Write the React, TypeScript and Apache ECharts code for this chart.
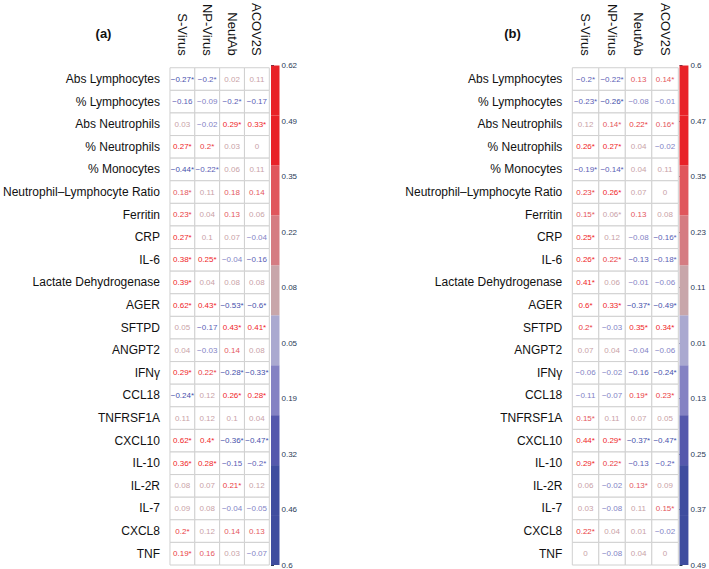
import React, { useEffect, useRef } from 'react';
import * as echarts from 'echarts';

const columns = ['S-Virus', 'NP-Virus', 'NeutAb', 'ACOV2S'];
const rows = [
  'Abs Lymphocytes', '% Lymphocytes', 'Abs Neutrophils', '% Neutrophils', '% Monocytes',
  'Neutrophil–Lymphocyte Ratio', 'Ferritin', 'CRP', 'IL-6', 'Lactate Dehydrogenase', 'AGER',
  'SFTPD', 'ANGPT2', 'IFNγ', 'CCL18', 'TNFRSF1A', 'CXCL10', 'IL-10', 'IL-2R', 'IL-7', 'CXCL8', 'TNF',
];

const valuesA = [
  [-0.27, -0.2, 0.02, 0.11],
  [-0.16, -0.09, -0.2, -0.17],
  [0.03, -0.02, 0.29, 0.33],
  [0.27, 0.2, 0.03, 0],
  [-0.44, -0.22, 0.06, 0.11],
  [0.18, 0.11, 0.18, 0.14],
  [0.23, 0.04, 0.13, 0.06],
  [0.27, 0.1, 0.07, -0.04],
  [0.38, 0.25, -0.04, -0.16],
  [0.39, 0.04, 0.08, 0.08],
  [0.62, 0.43, -0.53, -0.6],
  [0.05, -0.17, 0.43, 0.41],
  [0.04, -0.03, 0.14, 0.08],
  [0.29, 0.22, -0.28, -0.33],
  [-0.24, 0.12, 0.26, 0.28],
  [0.11, 0.12, 0.1, 0.04],
  [0.62, 0.4, -0.36, -0.47],
  [0.36, 0.28, -0.15, -0.2],
  [0.08, 0.07, 0.21, 0.12],
  [0.09, 0.08, -0.04, -0.05],
  [0.2, 0.12, 0.14, 0.13],
  [0.19, 0.16, 0.03, -0.07],
];
const sigA = [
  [1, 1, 0, 0], [0, 0, 1, 0], [0, 0, 1, 1], [1, 1, 0, 0], [1, 1, 0, 0], [1, 0, 0, 0],
  [1, 0, 0, 0], [1, 0, 0, 0], [1, 1, 0, 0], [1, 0, 0, 0], [1, 1, 1, 1], [0, 0, 1, 1],
  [0, 0, 0, 0], [1, 1, 1, 1], [1, 0, 1, 1], [0, 0, 0, 0], [1, 1, 1, 1], [1, 1, 0, 1],
  [0, 0, 1, 0], [0, 0, 0, 0], [1, 0, 0, 0], [1, 0, 0, 0],
];

const valuesB = [
  [-0.2, -0.22, 0.13, 0.14],
  [-0.23, -0.26, -0.08, -0.01],
  [0.12, 0.14, 0.22, 0.16],
  [0.26, 0.27, 0.04, -0.02],
  [-0.19, -0.14, 0.04, 0.11],
  [0.23, 0.26, 0.07, 0],
  [0.15, 0.06, 0.13, 0.08],
  [0.25, 0.12, -0.08, -0.16],
  [0.26, 0.22, -0.13, -0.18],
  [0.41, 0.06, -0.01, -0.06],
  [0.6, 0.33, -0.37, -0.49],
  [0.2, -0.03, 0.35, 0.34],
  [0.07, 0.04, -0.04, -0.06],
  [-0.06, -0.02, -0.16, -0.24],
  [-0.11, -0.07, 0.19, 0.23],
  [0.15, 0.11, 0.07, 0.05],
  [0.44, 0.29, -0.37, -0.47],
  [0.29, 0.22, -0.13, -0.2],
  [0.06, -0.02, 0.13, 0.09],
  [0.03, -0.08, 0.11, 0.15],
  [0.22, 0.04, 0.01, -0.02],
  [0, -0.08, 0.04, 0],
];
const sigB = [
  [1, 1, 0, 1], [1, 1, 0, 0], [0, 1, 1, 1], [1, 1, 0, 0], [1, 1, 0, 0], [1, 1, 0, 0],
  [1, 1, 0, 0], [1, 0, 0, 1], [1, 1, 0, 1], [1, 0, 0, 0], [1, 1, 1, 1], [1, 0, 1, 1],
  [0, 0, 0, 0], [0, 0, 0, 1], [0, 0, 1, 1], [1, 0, 0, 0], [1, 1, 1, 1], [1, 1, 0, 1],
  [0, 0, 1, 0], [0, 0, 0, 1], [1, 0, 0, 0], [0, 0, 0, 0],
];

// colour-bar tick labels, top to bottom
const ticksA = ['0.62', '0.49', '0.35', '0.22', '0.08', '0.05', '0.19', '0.32', '0.46', '0.6'];
const ticksB = ['0.6', '0.47', '0.35', '0.23', '0.11', '0.01', '0.13', '0.25', '0.37', '0.49'];

// colour-bar bins, bottom to top
const binColors = [
  '#3f4d9f', '#3f4d9f', '#5558ac', '#8482c3', '#aaa9d0',
  '#c8a6aa', '#d57c82', '#e0565c', '#e82228', '#e82228',
];

const FONT = 'Liberation Sans, Arial, Helvetica, sans-serif';

function textColor(v: number) {
  if (v >= 0.245) return '#ef1e28';
  if (v >= 0.185) return '#ea3c43';
  if (v >= 0.125) return '#e4575e';
  if (v >= 0) return '#c9a2a7';
  if (v > -0.125) return '#8383c5';
  if (v > -0.235) return '#5a60b5';
  return '#4550ab';
}

function fmt(v: number, s: number) {
  const t = v < 0 ? '\u2212' + String(-v) : String(v);
  return t + (s ? '*' : '');
}

function cellData(vals: number[][], sig: number[][]) {
  const out: any[] = [];
  vals.forEach((row, r) =>
    row.forEach((v, c) => {
      out.push([c, r, v, sig[r][c]]);
    })
  );
  return out;
}

function buildOption() {
  const gridTop = 65;
  const gridH = 500;
  const panels = [
    { left: 163.3, width: 106, cbLeft: 271, cbWidth: 8.5, vals: valuesA, sig: sigA, ticks: ticksA, title: '(a)', tx: 103.5 },
    { left: 572.3, width: 106, cbLeft: 679.5, cbWidth: 10, vals: valuesB, sig: sigB, ticks: ticksB, title: '(b)', tx: 512.5 },
  ];
  const grid: any[] = [];
  const xAxis: any[] = [];
  const yAxis: any[] = [];
  const series: any[] = [];
  const graphic: any[] = [];

  panels.forEach((p, i) => {
    grid.push({ left: p.left, top: gridTop, width: p.width, height: gridH, containLabel: false });
    grid.push({ left: p.cbLeft, top: gridTop + 0.5, width: p.cbWidth, height: gridH, containLabel: false });
    const hi = i * 2;
    const ci = i * 2 + 1;
    xAxis.push({
      type: 'category',
      gridIndex: hi,
      data: columns,
      position: 'top',
      axisLine: { show: false },
      axisTick: { show: false },
      splitLine: { show: false },
      axisLabel: { rotate: 90, margin: 12, fontSize: 13, color: '#111', fontFamily: FONT, interval: 0 },
    });
    yAxis.push({
      type: 'category',
      gridIndex: hi,
      data: rows,
      inverse: true,
      axisLine: { show: false },
      axisTick: { show: false },
      splitLine: { show: false },
      axisLabel: { margin: 10, fontSize: 12, color: '#111', fontFamily: FONT, interval: 0 },
    });
    xAxis.push({
      type: 'value',
      gridIndex: ci,
      min: 0,
      max: 1,
      show: false,
    });
    yAxis.push({
      type: 'value',
      gridIndex: ci,
      min: 0,
      max: 9,
      interval: 1,
      position: 'right',
      axisLine: { show: false },
      splitLine: { show: false },
      axisTick: { show: true, length: 3, lineStyle: { color: '#2b3a57', width: 1 } },
      axisLabel: {
        margin: 2,
        fontSize: 8,
        color: '#2b3a57',
        fontFamily: FONT,
        showMinLabel: true,
        showMaxLabel: true,
        formatter: (v: number) => p.ticks[9 - Math.round(v)],
      },
    });
    series.push({
      type: 'custom',
      xAxisIndex: hi,
      yAxisIndex: hi,
      data: cellData(p.vals, p.sig),
      renderItem: (_params: any, api: any) => {
        const c = api.value(0);
        const r = api.value(1);
        const v = api.value(2);
        const s = api.value(3);
        const center = api.coord([c, r]);
        const size = api.size([1, 1]);
        return {
          type: 'group',
          children: [
            {
              type: 'rect',
              shape: {
                x: center[0] - size[0] / 2,
                y: center[1] - size[1] / 2,
                width: size[0],
                height: size[1],
              },
              style: { fill: '#ffffff', stroke: '#d0d0d0', lineWidth: 1 },
            },
            {
              type: 'text',
              x: center[0],
              y: center[1],
              style: {
                text: fmt(v, s),
                fill: textColor(v),
                fontSize: 8,
                fontFamily: FONT,
                textAlign: 'center',
                textVerticalAlign: 'middle',
              },
            },
          ],
        };
      },
      silent: true,
    });
    series.push({
      type: 'custom',
      xAxisIndex: ci,
      yAxisIndex: ci,
      data: binColors.map((_, k) => [k]),
      renderItem: (_params: any, api: any) => {
        const k = api.value(0);
        const p0 = api.coord([0, k * 0.9]);
        const p1 = api.coord([1, (k + 1) * 0.9]);
        return {
          type: 'rect',
          shape: { x: p0[0], y: p1[1], width: p1[0] - p0[0], height: p0[1] - p1[1] },
          style: { fill: binColors[k] },
        };
      },
      silent: true,
    });
    graphic.push({
      type: 'text',
      x: p.tx,
      y: 33,
      style: {
        text: p.title,
        fontSize: 13,
        fontWeight: 'bold',
        fontFamily: FONT,
        fill: '#111',
        textAlign: 'center',
        textVerticalAlign: 'middle',
      },
    });
  });

  return {
    animation: false,
    backgroundColor: '#ffffff',
    grid,
    xAxis,
    yAxis,
    series,
    graphic,
  };
}

export default function App() {
  const ref = useRef<HTMLDivElement>(null);
  useEffect(() => {
    if (!ref.current) return;
    const chart = echarts.init(ref.current, null, { renderer: 'svg' });
    chart.setOption(buildOption() as any);
    return () => chart.dispose();
  }, []);
  return (
    <div
      ref={ref}
      style={{ position: 'absolute', left: 0, top: 0, width: 709, height: 569, background: '#fff' }}
    />
  );
}
